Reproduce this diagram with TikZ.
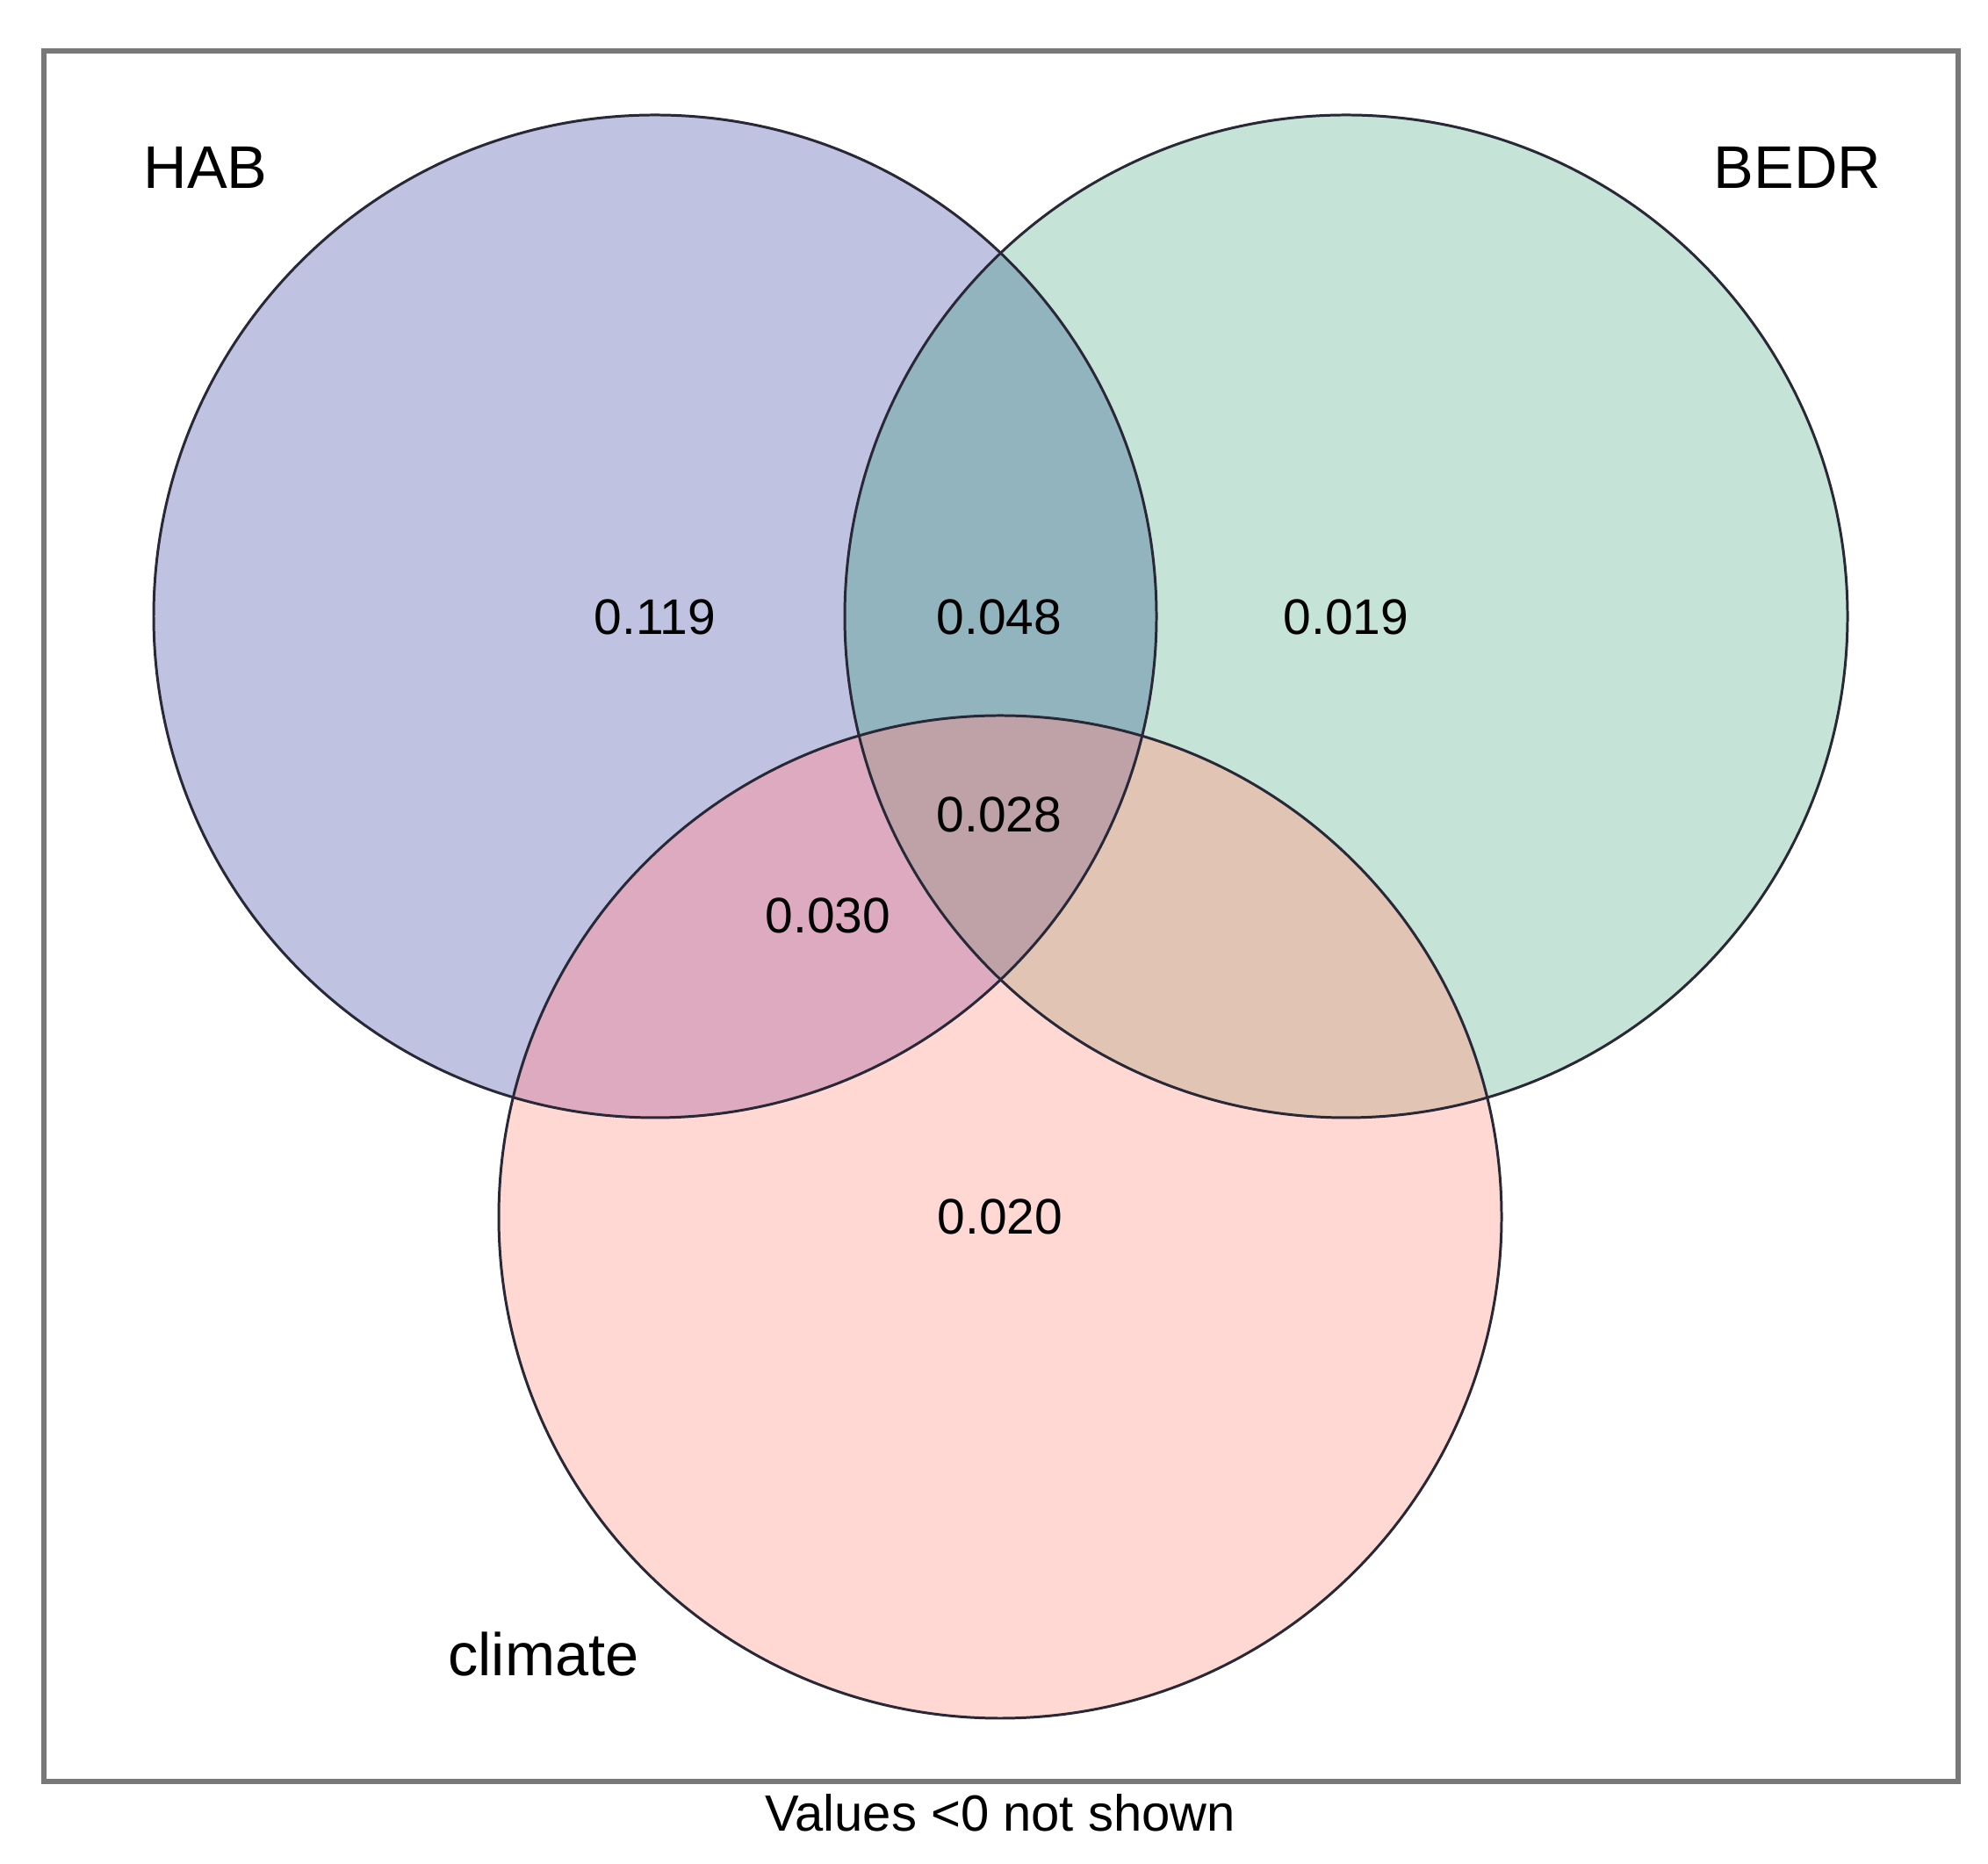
\documentclass[tikz,border=0pt]{standalone}
\usepackage{fontspec}
\setmainfont{Liberation Sans}
\usepackage{xcolor}
\usetikzlibrary{calc}

\definecolor{habcol}{RGB}{192,194,226}
\definecolor{bedrcol}{RGB}{197,227,214}
\definecolor{climcol}{RGB}{255,216,212}
\definecolor{habbedr}{RGB}{146,180,190}
\definecolor{habclim}{RGB}{222,170,192}
\definecolor{bedrclim}{RGB}{225,196,180}
\definecolor{allthree}{RGB}{190,162,168}
\definecolor{edgecol}{RGB}{40,40,55}
\definecolor{framecol}{RGB}{120,120,120}

\begin{document}
\begin{tikzpicture}
      [setname/.style={font=\fontsize{19.5}{23}\selectfont, anchor=base, inner sep=0pt},
       value/.style={font=\fontsize{16.2}{20}\selectfont, anchor=base, inner sep=0pt},
       ring/.style={draw=edgecol, line width=0.85pt}]

      \useasboundingbox (0,0) rectangle (22.64,21.22);

      % circle centres
      \coordinate (hab) at (7.46,14.20);
      \coordinate (bedr) at (15.33,14.20);
      \coordinate (clim) at (11.39,7.36);
      \def\rad{5.71}

      % frame
      \draw[framecol, line width=1.5pt] (0.50,0.93) rectangle (22.30,20.64);

      % single sets
      \fill[habcol] (hab) circle (\rad);
      \fill[bedrcol] (bedr) circle (\rad);
      \fill[climcol] (clim) circle (\rad);

      % overlaps
      \begin{scope}
        \clip (hab) circle (\rad);
        \fill[habbedr] (bedr) circle (\rad);
        \fill[habclim] (clim) circle (\rad);
      \end{scope}
      \begin{scope}
        \clip (bedr) circle (\rad);
        \fill[bedrclim] (clim) circle (\rad);
      \end{scope}
      \begin{scope}
        \clip (hab) circle (\rad);
        \clip (bedr) circle (\rad);
        \fill[allthree] (clim) circle (\rad);
      \end{scope}

      % outlines
      \draw[ring] (hab) circle (\rad);
      \draw[ring] (bedr) circle (\rad);
      \draw[ring] (clim) circle (\rad);

      % set names
      \node[setname] (habname) at (2.34,19.07) {HAB};
      \node[setname] (bedrname) at (20.47,19.07) {BEDR};
      \node[setname] (climname) at (6.19,2.14) {climate};

      % values
      \node[value] (vhab) at (7.46,13.99) {0.119};
      \node[value] (vhabbedr) at (11.38,13.99) {0.048};
      \node[value] (vbedr) at (15.33,13.99) {0.019};
      \node[value] (vall) at (11.38,11.74) {0.028};
      \node[value] (vhabclim) at (9.43,10.59) {0.030};
      \node[value] (vclim) at (11.39,7.16) {0.020};

      % footnote
      \node[value, font=\fontsize{16.5}{20}\selectfont] (note) at (11.39,0.37) {Values <0 not shown};
\end{tikzpicture}
\end{document}
